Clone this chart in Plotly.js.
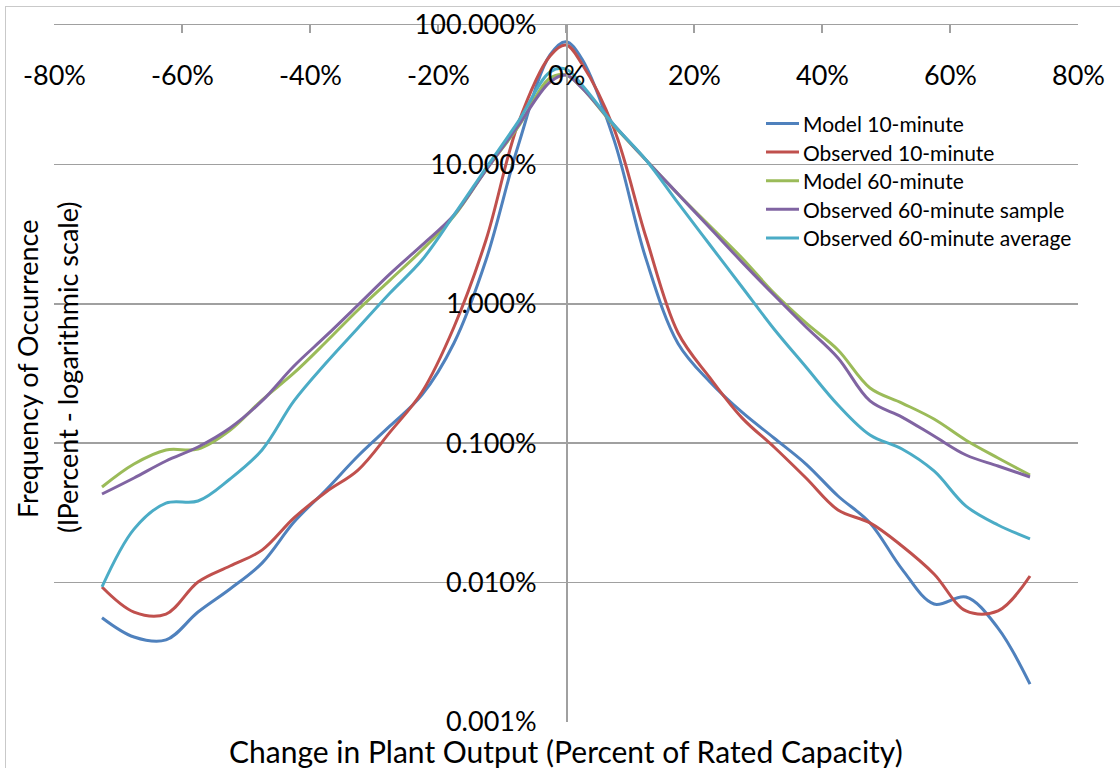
<!DOCTYPE html>
<html>
<head>
<meta charset="utf-8">
<script src="https://cdn.plot.ly/plotly-3.0.1.min.js"></script>
<style>
  html, body { margin:0; padding:0; background:#fff; }
  #chart { position:absolute; left:0; top:0; width:1120px; height:768px; }
  #frame { position:absolute; left:5px; top:6px; width:1200px; height:800px; border:1px solid #c9c9c9; pointer-events:none; }
</style>
</head>
<body>
<div id="chart"></div>
<div id="frame"></div>
<script>
// Change in plant output (percent of rated capacity)
const changePct = [-72.5,-67.5,-62.5,-57.5,-52.5,-47.5,-42.5,-37.5,-32.5,-27.5,-22.5,-17.5,-12.5,-7.5,-2.5,0,
                   2.5,7.5,12.5,17.5,22.5,27.5,32.5,37.5,42.5,47.5,52.5,57.5,62.5,67.5,72.5];

// Frequency of occurrence (percent)
const model10 = [0.0056,0.00407,0.00388,0.00615,0.0090,0.0138,0.0272,0.0462,0.081,0.133,0.222,0.523,2.06,13.5,61.0,75.9,
                 57.0,15.0,2.1,0.52,0.275,0.167,0.109,0.0709,0.0418,0.0268,0.0125,0.00702,0.00788,0.00472,0.00187];
const observed10 = [0.0093,0.00615,0.00595,0.0101,0.01315,0.0171,0.0291,0.0447,0.0642,0.120,0.233,0.682,2.87,19.5,60.0,71.9,
                    52.5,18.0,3.0,0.62,0.294,0.152,0.0939,0.0563,0.0332,0.0268,0.0183,0.01153,0.00626,0.00626,0.01115];
const model60 = [0.0485,0.0709,0.0894,0.0909,0.124,0.204,0.319,0.532,0.903,1.48,2.43,4.26,9.11,18.5,41.6,43.8,
                 35.3,18.9,10.75,6.13,3.61,2.13,1.195,0.729,0.466,0.249,0.194,0.149,0.105,0.0783,0.0591];
const observed60sample = [0.0432,0.0563,0.0745,0.0939,0.1285,0.201,0.358,0.588,0.98,1.64,2.64,4.34,9.11,18.9,39.0,43.8,
                          35.3,19.2,10.75,6.13,3.50,1.99,1.156,0.682,0.409,0.201,0.154,0.1126,0.0823,0.0686,0.0572];
const observed60avg = [0.0093,0.0242,0.0372,0.0385,0.0554,0.0894,0.201,0.376,0.671,1.195,2.06,4.34,9.42,20.2,46.0,48.3,
                       37.1,19.2,10.75,5.29,2.64,1.32,0.66,0.352,0.188,0.1145,0.0909,0.0632,0.0354,0.0259,0.0206];

const seriesNames = ["Model 10-minute","Observed 10-minute","Model 60-minute","Observed 60-minute sample","Observed 60-minute average"];
const seriesColors = ["#4F81BD","#C0504D","#9BBB59","#8064A2","#4BACC6"];
const seriesValues = [model10, observed10, model60, observed60sample, observed60avg];

const xTickVals = [-80,-60,-40,-20,0,20,40,60,80];
const xTickText = ["-80%","-60%","-40%","-20%","0%","20%","40%","60%","80%"];
const yTickVals = [0.001,0.01,0.1,1,10,100];
const yTickText = ["0.001%","0.010%","0.100%","1.000%","10.000%","100.000%"];

const FONT = "Lato, 'Open Sans', sans-serif";

// plot area in pixels (for placing the hand-made legend and titles)
const PL = 54, PR = 1078, PT = 25, PB = 722;
const px2x = p => (p - PL) / (PR - PL);
const px2y = p => (PB - p) / (PB - PT);

const traces = seriesNames.map((name, i) => ({
  type: "scatter",
  mode: "lines",
  name: name,
  x: changePct,
  y: seriesValues[i],
  line: { color: seriesColors[i], width: 3, shape: "spline", smoothing: 1 },
  hoverinfo: "x+y+name"
}));

const shapes = [];
const annotations = [];

// x tick labels (sit below the top axis line, inside the plot, as in the original)
xTickVals.forEach((v, i) => {
  annotations.push({ text: xTickText[i], xref: "x", yref: "paper",
    x: v, y: px2y(74), xanchor: "center", yanchor: "middle", showarrow: false,
    font: { family: FONT, size: 27, color: "#000" } });
});

// legend drawn as line samples + labels
seriesNames.forEach((name, i) => {
  const cy = 123.5 + 28.6 * i;
  shapes.push({ type: "line", xref: "paper", yref: "paper",
    x0: px2x(766), x1: px2x(799), y0: px2y(cy), y1: px2y(cy),
    line: { color: seriesColors[i], width: 3 } });
  annotations.push({ text: name, xref: "paper", yref: "paper",
    x: px2x(801), y: px2y(cy), xanchor: "left", yanchor: "middle", showarrow: false,
    font: { family: FONT, size: 21, color: "#000" } });
});

annotations.push(
  { text: "Change in Plant Output (Percent of Rated Capacity)", xref: "paper", yref: "paper",
    x: 0.5, y: px2y(751), xanchor: "center", yanchor: "middle", showarrow: false,
    font: { family: FONT, size: 30, color: "#000" } },
  { text: "Frequency of Occurrence", xref: "paper", yref: "paper",
    x: px2x(27), y: px2y(369), xanchor: "center", yanchor: "middle", showarrow: false, textangle: -90,
    font: { family: FONT, size: 27, color: "#000" } },
  { text: "(lPercent - logarithmic scale)", xref: "paper", yref: "paper",
    x: px2x(67), y: px2y(367), xanchor: "center", yanchor: "middle", showarrow: false, textangle: -90,
    font: { family: FONT, size: 27, color: "#000" } }
);

const layout = {
  width: 1120, height: 768,
  margin: { l: PL, r: 1120 - PR, t: PT, b: 768 - PB, pad: 0 },
  paper_bgcolor: "#ffffff",
  plot_bgcolor: "#ffffff",
  font: { family: FONT, color: "#000" },
  showlegend: false,
  xaxis: {
    range: [-80, 80], side: "top", anchor: "y",
    tickmode: "array", tickvals: xTickVals,
    ticks: "inside", ticklen: 8, tickwidth: 1.5, tickcolor: "#a0a0a0",
    showline: true, linecolor: "#a0a0a0", linewidth: 1.5,
    showgrid: false, zeroline: false, showticklabels: false
  },
  yaxis: {
    type: "log", range: [-3, 2], anchor: "free", position: 0.5, side: "left",
    tickmode: "array", tickvals: yTickVals, ticktext: yTickText,
    ticks: "", showline: true, linecolor: "#a0a0a0", linewidth: 1.5,
    showgrid: true, gridcolor: "#a0a0a0", gridwidth: 1.5, zeroline: false,
    ticklabelstandoff: 24, ticklabeloverflow: "allow",
    tickfont: { family: FONT, size: 27, color: "#000" }
  },
  shapes: shapes,
  annotations: annotations
};

Plotly.newPlot("chart", traces, layout, { displayModeBar: false, staticPlot: true });
</script>
</body>
</html>
